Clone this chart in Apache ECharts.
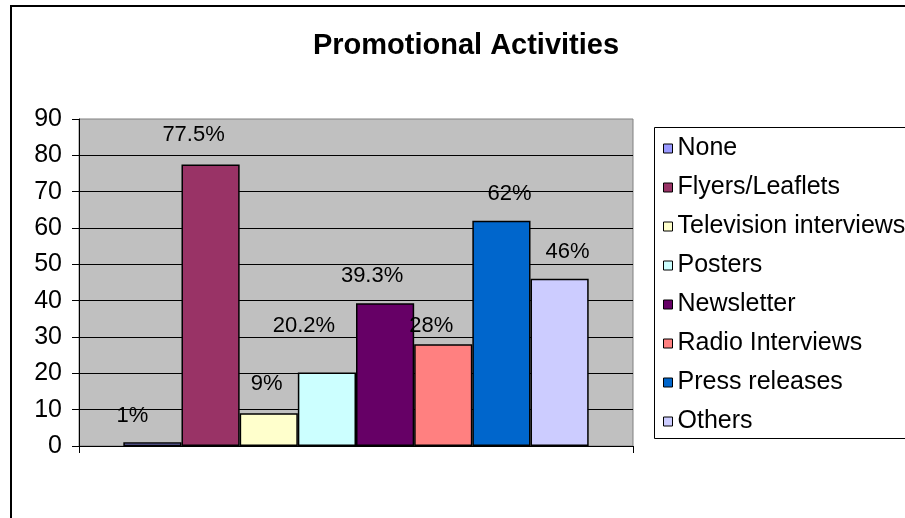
<!DOCTYPE html>
<html>
<head>
<meta charset="utf-8">
<script src="https://cdn.jsdelivr.net/npm/echarts@6/dist/echarts.min.js"></script>
<style>html,body{margin:0;padding:0;background:#fff;}#c{width:905px;height:518px;}</style>
</head>
<body>
<div id="c"></div>
<script>
const titleText = 'Promotional Activities';
const categories = [''];
const seriesNames = ['None', 'Flyers/Leaflets', 'Television interviews', 'Posters', 'Newsletter', 'Radio Interviews', 'Press releases', 'Others'];
const seriesValues = [1, 77.5, 9, 20.2, 39.3, 28, 62, 46];
const labelTexts = ['1%', '77.5%', '9%', '20.2%', '39.3%', '28%', '62%', '46%'];
const yTicks = { min: 0, max: 90, interval: 10 };

const colors = ['#9999FF', '#993366', '#FFFFCC', '#CCFFFF', '#660066', '#FF8080', '#0066CC', '#CCCCFF'];
const labelOffsets = [[-20, -15], [-17, -18], [-2, -18], [-23, -36], [-13, -16], [-12, -7], [8, -16], [8, -16]];

const FONT = 'Liberation Sans, Arial, sans-serif';
const chart = echarts.init(document.getElementById('c'), null, { renderer: 'canvas' });

const series = seriesNames.map((name, i) => ({
  name: name,
  type: 'bar',
  data: [seriesValues[i]],
  barGap: '0%',
  barCategoryGap: '16%',
  itemStyle: { color: colors[i], borderColor: '#000', borderWidth: 1.5 },
  label: {
    show: true,
    position: 'top',
    distance: 0,
    offset: labelOffsets[i],
    formatter: () => labelTexts[i],
    color: '#000',
    fontSize: 22,
    fontFamily: FONT
  },
  animation: false
}));

chart.setOption({
  animation: false,
  backgroundColor: '#fff',
  title: {
    text: titleText,
    left: 466,
    top: 31,
    textAlign: 'center',
    padding: 0,
    textStyle: { fontSize: 29, fontWeight: 'bold', fontFamily: FONT, color: '#000' }
  },
  graphic: [
    { type: 'rect', z: -10, shape: { x: 11, y: 6, width: 1000, height: 600 }, style: { fill: 'none', stroke: '#000', lineWidth: 2 } },
    { type: 'rect', z: -5, shape: { x: 654.5, y: 127.5, width: 300, height: 311 }, style: { fill: '#fff', stroke: '#000', lineWidth: 1 } }
  ],
  legend: {
    orient: 'vertical',
    left: 663,
    top: 136,
    padding: 0,
    itemGap: 14,
    itemWidth: 9,
    itemHeight: 9,
    icon: 'rect',
    data: seriesNames,
    itemStyle: { borderColor: '#000', borderWidth: 1 },
    textStyle: { fontSize: 25, lineHeight: 25, fontFamily: FONT, color: '#000' }
  },
  grid: {
    left: 79, right: 272, top: 119, bottom: 72,
    show: true,
    backgroundColor: '#C0C0C0',
    borderColor: '#808080',
    borderWidth: 1
  },
  xAxis: {
    type: 'category',
    data: categories,
    axisLine: { lineStyle: { color: '#000', width: 1 } },
    axisTick: { show: true, length: 7, lineStyle: { color: '#000' } },
    axisLabel: { show: false }
  },
  yAxis: {
    type: 'value',
    min: yTicks.min,
    max: yTicks.max,
    interval: yTicks.interval,
    axisLine: { show: true, lineStyle: { color: '#000', width: 1 } },
    axisTick: { show: true, length: 7, lineStyle: { color: '#000' } },
    axisLabel: { margin: 17, fontSize: 25, fontFamily: FONT, color: '#000' },
    splitLine: { show: true, showMaxLine: false, lineStyle: { color: '#000', width: 1 } }
  },
  series: series
});
</script>
</body>
</html>
